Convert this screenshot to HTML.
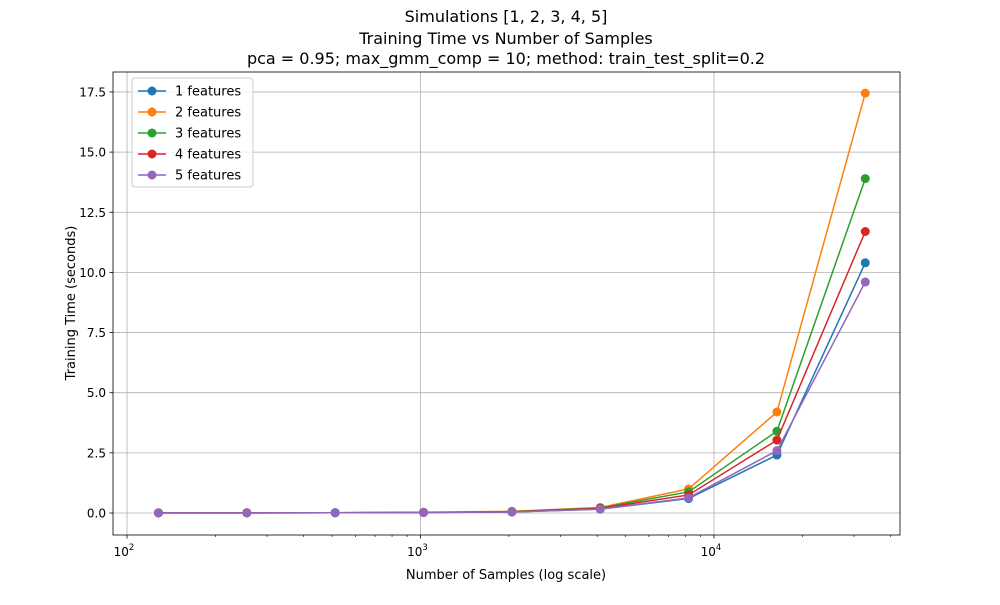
<!DOCTYPE html>
<html><head><meta charset="utf-8"><style>
body{margin:0;background:#fff;font-family:"Liberation Sans","DejaVu Sans",sans-serif}
svg text{font-family:"DejaVu Sans","Liberation Sans",sans-serif}
</style></head><body>
<svg id="chart" width="1000" height="600" viewBox="0 0 1000 600">
<rect width="1000" height="600" fill="#fff"/>
<g id="grid"></g>
<g id="series"></g>
<rect x="113" y="72" width="787" height="463" fill="none" stroke="#000" stroke-width="0.8"/>
<g id="axes"></g>
<text x="506" y="22" text-anchor="middle" font-size="16">Simulations [1, 2, 3, 4, 5]</text>
<text x="506" y="44" text-anchor="middle" font-size="16">Training Time vs Number of Samples</text>
<text x="506" y="64" text-anchor="middle" font-size="16">pca = 0.95; max_gmm_comp = 10; method: train_test_split=0.2</text>
<text x="506" y="579" text-anchor="middle" font-size="13">Number of Samples (log scale)</text>
<text transform="translate(75,303) rotate(-90)" text-anchor="middle" font-size="13">Training Time (seconds)</text>
<g id="legend"></g>
</svg>
<script>
const samples=[128,256,512,1024,2048,4096,8192,16384,32768];
const seriesNames=["1 features","2 features","3 features","4 features","5 features"];
const colors=["#1f77b4","#ff7f0e","#2ca02c","#d62728","#9467bd"];
const s1=[0.005,0.006,0.01,0.02,0.04,0.16,0.6,2.41,10.4];
const s2=[0.006,0.008,0.012,0.03,0.07,0.23,1.0,4.2,17.45];
const s3=[0.006,0.007,0.012,0.025,0.06,0.21,0.88,3.4,13.9];
const s4=[0.005,0.007,0.011,0.022,0.05,0.19,0.75,3.03,11.7];
const s5=[0.005,0.006,0.01,0.02,0.04,0.16,0.63,2.59,9.6];
const yTicks=[0,2.5,5,7.5,10,12.5,15,17.5];
const yTickLabels=["0.0","2.5","5.0","7.5","10.0","12.5","15.0","17.5"];
const xMajor=[100,1000,10000];
const xMajorLabels=["2","3","4"];
const all=[s1,s2,s3,s4,s5];
const NS="http://www.w3.org/2000/svg";
function X(v){return 127+(Math.log10(v)-2)*293.5;}
function Y(v){return 513-v*24.06;}
function mk(t,a,p){const e=document.createElementNS(NS,t);for(const k in a)e.setAttribute(k,a[k]);p.appendChild(e);return e;}
const grid=document.getElementById('grid'),axes=document.getElementById('axes'),ser=document.getElementById('series'),leg=document.getElementById('legend');
yTicks.forEach((t,i)=>{
 const l=mk('line',{x1:113,x2:900,y1:Y(t),y2:Y(t),stroke:'#b0b0b0','stroke-width':0.8},grid);
 
 
 mk('line',{x1:109.5,x2:113,y1:Y(t),y2:Y(t),stroke:'#000','stroke-width':0.8},axes);
 const tx=mk('text',{x:106,y:Y(t)+4.5,'text-anchor':'end','font-size':12},axes);tx.textContent=yTickLabels[i];
 
 
});
xMajor.forEach((t,i)=>{
 const l=mk('line',{x1:X(t),x2:X(t),y1:72,y2:535,stroke:'#b0b0b0','stroke-width':0.8},grid);
 
 
 mk('line',{x1:X(t),x2:X(t),y1:535,y2:538.5,stroke:'#000','stroke-width':0.8},axes);
 const tx=mk('text',{x:X(t)-3,y:556,'text-anchor':'middle','font-size':12},axes);tx.textContent='10';
 
 
 const sp=mk('tspan',{dy:-6,'font-size':8.5},tx);sp.textContent=xMajorLabels[i];
});
for(let d=100;d<100000;d*=10){for(let m=2;m<10;m++){const v=d*m;if(X(v)>900)continue;mk('line',{x1:X(v),x2:X(v),y1:535,y2:537,stroke:'#000','stroke-width':0.6},axes);}}
all.forEach((s,k)=>{
 const g=mk('g',{},ser);
 
 
 mk('polyline',{points:s.map((v,i)=>X(samples[i])+','+Y(v)).join(' '),fill:'none',stroke:colors[k],'stroke-width':1.5},g);
 s.forEach((v,i)=>{const c=mk('circle',{cx:X(samples[i]),cy:Y(v),r:4.5,fill:colors[k]},g);
  
  });
});
mk('rect',{x:132,y:78,width:121,height:109,rx:3,fill:'#fff','fill-opacity':0.8,stroke:'#ccc'},leg);
seriesNames.forEach((n,k)=>{
 const y=91+k*21;
 const g=mk('g',{},leg);
 
 
 mk('line',{x1:138,x2:166,y1:y,y2:y,stroke:colors[k],'stroke-width':1.5},g);
 mk('circle',{cx:152,cy:y,r:4.5,fill:colors[k]},g);
 const t=mk('text',{x:175,y:y+4.5,'font-size':13},g);t.textContent=n;
});
</script>
</body></html>
